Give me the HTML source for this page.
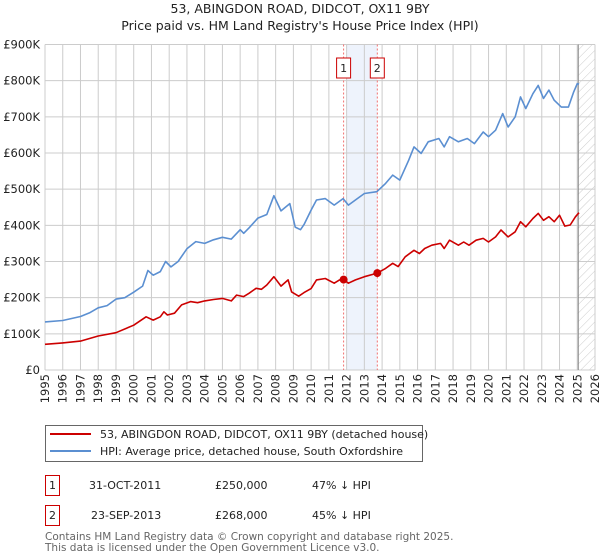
<!DOCTYPE html>
<html><head><meta charset="utf-8"><style>
body{margin:0;background:#fff;width:600px;height:560px;overflow:hidden;font-family:"DejaVu Sans","Liberation Sans",sans-serif}
svg{position:absolute;left:0;top:0}
</style></head><body>
<svg id="chart" width="600" height="560" xmlns="http://www.w3.org/2000/svg" font-family="DejaVu Sans, Liberation Sans, sans-serif">
<defs><pattern id="hatch" width="6" height="6" patternUnits="userSpaceOnUse" patternTransform="rotate(45)"><line x1="0" y1="0" x2="0" y2="6" stroke="#ccc" stroke-width="1"/></pattern></defs>
<text x="300" y="13" text-anchor="middle" font-size="12.5" fill="#222">53, ABINGDON ROAD, DIDCOT, OX11 9BY</text>
<text x="300" y="30" text-anchor="middle" font-size="12.5" fill="#222">Price paid vs. HM Land Registry's House Price Index (HPI)</text>
<g id="grid"></g><g id="marks"></g><g id="axes"></g>
<g>
<rect x="45.5" y="425.5" width="377" height="36" fill="#fff" stroke="#666"/>
<line x1="50" y1="434" x2="91" y2="434" stroke="#cc0000" stroke-width="2"/>
<text x="100" y="438" font-size="11" fill="#222">53, ABINGDON ROAD, DIDCOT, OX11 9BY (detached house)</text>
<line x1="50" y1="451" x2="91" y2="451" stroke="#5b8fd1" stroke-width="2"/>
<text x="100" y="455" font-size="11" fill="#222">HPI: Average price, detached house, South Oxfordshire</text>
</g>
<g font-size="11" fill="#222">
<rect x="45.5" y="475.5" width="14" height="20" fill="#fff" stroke="#cc0000"/><text x="52.5" y="489" text-anchor="middle">1</text>
<text x="89" y="489">31-OCT-2011</text><text x="215" y="489">£250,000</text><text x="312" y="489">47% ↓ HPI</text>
<rect x="45.5" y="505.5" width="14" height="20" fill="#fff" stroke="#cc0000"/><text x="52.5" y="519" text-anchor="middle">2</text>
<text x="91" y="519">23-SEP-2013</text><text x="215" y="519">£268,000</text><text x="312" y="519">45% ↓ HPI</text>
</g>
<text x="45" y="540" font-size="10.5" fill="#666">Contains HM Land Registry data © Crown copyright and database right 2025.</text>
<text x="45" y="551" font-size="10.5" fill="#666">This data is licensed under the Open Government Licence v3.0.</text>
</svg>
<script>
const hpiYears=[1995,1996,1997,1997.5,1998,1998.5,1999,1999.5,2000,2000.5,2000.8,2001.1,2001.5,2001.8,2002.1,2002.5,2003,2003.5,2004,2004.5,2005,2005.5,2006,2006.2,2006.5,2007,2007.5,2007.9,2008.3,2008.8,2009.1,2009.4,2009.6,2010,2010.3,2010.8,2011.3,2011.8,2012.1,2012.6,2013,2013.7,2014.2,2014.6,2015,2015.5,2015.8,2016.2,2016.6,2017.2,2017.5,2017.8,2018.3,2018.8,2019.2,2019.7,2020,2020.4,2020.8,2021.1,2021.5,2021.8,2022.1,2022.5,2022.8,2023.1,2023.4,2023.7,2024.1,2024.5,2024.8,2025.0,2025.1];
const hpiValues=[133,137,148,158,172,178,196,200,215,232,275,262,272,300,285,300,335,355,350,360,367,362,388,378,393,420,430,482,440,460,395,388,402,442,470,474,456,474,456,474,488,493,516,539,525,580,617,599,631,640,617,645,631,640,626,658,645,663,709,672,700,755,723,764,787,751,774,746,727,727,769,792,790];
const ppYears=[1995,1996,1997,1998,1999,2000,2000.7,2001.1,2001.5,2001.7,2001.9,2002.3,2002.7,2003.2,2003.6,2004,2004.5,2005,2005.5,2005.8,2006.2,2006.5,2006.9,2007.2,2007.5,2007.9,2008.3,2008.7,2008.9,2009.3,2009.6,2010,2010.3,2010.8,2011.3,2011.6,2011.83,2012.1,2012.5,2013,2013.73,2014.2,2014.6,2014.9,2015.3,2015.8,2016.1,2016.4,2016.8,2017.3,2017.5,2017.8,2018.3,2018.6,2018.9,2019.3,2019.7,2020,2020.4,2020.7,2021.1,2021.5,2021.8,2022.1,2022.5,2022.8,2023.1,2023.4,2023.7,2024.0,2024.3,2024.6,2024.9,2025.1];
const ppValues=[71,75,80,94,103,124,147,138,147,161,152,157,180,189,186,191,195,198,191,207,203,212,226,223,235,258,232,249,216,204,214,225,249,253,240,249,250,240,249,258,268,281,295,286,313,331,322,336,345,350,336,359,345,354,345,359,364,354,368,387,368,382,410,396,419,433,414,424,410,428,398,401,424,435];
const saleYears=[2011.83,2013.73];
const saleValues=[250,268];
const saleLabels=["1","2"];
const yTicks=[0,100,200,300,400,500,600,700,800,900];
const yTickLabels=["£0","£100K","£200K","£300K","£400K","£500K","£600K","£700K","£800K","£900K"];
const xTicks=[1995,1996,1997,1998,1999,2000,2001,2002,2003,2004,2005,2006,2007,2008,2009,2010,2011,2012,2013,2014,2015,2016,2017,2018,2019,2020,2021,2022,2023,2024,2025,2026];

const L=45,R=595,T=44.5,B=370,X0=1995,X1=2026,YMAX=900;
const xs=y=>L+(y-X0)/(X1-X0)*(R-L);
const ys=v=>B-v/YMAX*(B-T);
const NS="http://www.w3.org/2000/svg";
function mk(tag,parent,attrs){const e=document.createElementNS(NS,tag);for(const k in attrs)e.setAttribute(k,attrs[k]);parent.appendChild(e);return e;}
const grid=document.getElementById('grid'),marks=document.getElementById('marks'),axes=document.getElementById('axes');
// shaded region & hatch
let r=mk('rect',grid,{x:xs(2012),y:T,width:xs(saleYears[1])-xs(2012),height:B-T,fill:'#eef3fc'});


r=mk('rect',grid,{x:xs(2025),y:T,width:R-xs(2025),height:B-T,fill:'url(#hatch)'});


yTicks.forEach((v,i)=>{
 mk('line',grid,{x1:L,x2:R,y1:ys(v),y2:ys(v),stroke:'#ccc','stroke-width':1});
 const t=mk('text',axes,{x:40,y:ys(v)+4,'text-anchor':'end','font-size':'11.5',fill:'#222'});
 t.textContent=yTickLabels[i];
 
 
});
xTicks.forEach(yr=>{
 mk('line',grid,{x1:xs(yr),x2:xs(yr),y1:T,y2:B,stroke:'#ccc','stroke-width':1});
 const t=mk('text',axes,{x:0,y:0,'text-anchor':'end','font-size':'11.5',fill:'#222',transform:`translate(${xs(yr)+4},${B+4}) rotate(-90)`});
 t.textContent=yr;
 
 
});
mk('line',grid,{x1:xs(2025)+1,x2:xs(2025)+1,y1:T,y2:B,stroke:'#888','stroke-width':1});
saleYears.forEach((yr,i)=>{
 const l=mk('line',marks,{x1:xs(yr),x2:xs(yr),y1:T,y2:B,stroke:'#f07070','stroke-width':1,'stroke-dasharray':'2,2'});
 
 
 const b=mk('rect',marks,{x:xs(yr)-7,y:58,width:14,height:20,fill:'#fff',stroke:'#cc0000'});
 
 
 const t=mk('text',marks,{x:xs(yr),y:72,'text-anchor':'middle','font-size':'11',fill:'#222'});
 t.textContent=saleLabels[i];
});
function line(xa,va,col,name){
 const p=mk('polyline',marks,{points:xa.map((x,i)=>xs(x).toFixed(1)+','+ys(va[i]).toFixed(1)).join(' '),fill:'none',stroke:col,'stroke-width':1.6,'stroke-linejoin':'round'});
 
 
}
line(hpiYears,hpiValues,'#5b8fd1','hpi-line');
line(ppYears,ppValues,'#cc0000','property-price-line');
saleYears.forEach((yr,i)=>{
 const c=mk('circle',marks,{cx:xs(yr),cy:ys(saleValues[i]),r:4,fill:'#cc0000'});
 
 
});
</script>
</body></html>
